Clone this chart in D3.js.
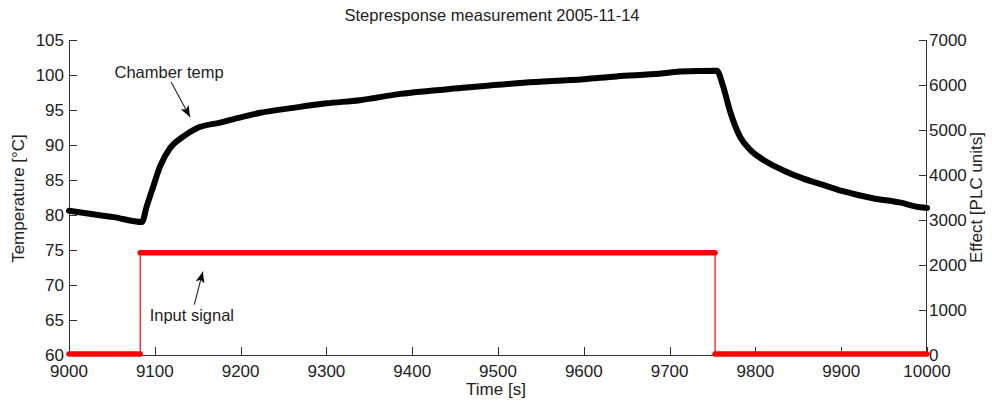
<!DOCTYPE html>
<html><head><meta charset="utf-8">
<script src="https://cdn.jsdelivr.net/npm/d3@7/dist/d3.min.js"></script>
<style>body{margin:0;background:#fff}svg{display:block}text{font-family:"Liberation Sans",Arial,sans-serif}</style>
</head><body><svg id="c" width="992" height="401"></svg>
<script>
const title = "Stepresponse measurement 2005-11-14";
const xLabel = "Time [s]";
const yLeftLabel = "Temperature [°C]";
const yRightLabel = "Effect [PLC units]";
const xTicks = [9000,9100,9200,9300,9400,9500,9600,9700,9800,9900,10000];
const yLeftTicks = [60,65,70,75,80,85,90,95,100,105];
const yRightTicks = [0,1000,2000,3000,4000,5000,6000,7000];

// Chamber temperature (time s, temp °C)
const tempTime = [9000,9028,9052,9085,9090.5,9098,9106,9118,9133,9149,9176,9195,9223,9261,9300,9339,9386,9463,9530,9600,9638,9690,9712,9755,9762.6,9770,9782,9794,9809,9832,9856,9879,9902,9937,9968,9992,10000];
const tempValue = [80.6,80.1,79.7,79.0,81.2,84.0,86.9,89.6,91.2,92.4,93.2,93.8,94.6,95.3,95.95,96.4,97.3,98.2,98.9,99.4,99.8,100.2,100.5,100.6,98.3,95.0,91.2,89.3,87.9,86.4,85.2,84.3,83.4,82.4,81.8,81.1,81.0];

// Input signal (time s, effect PLC units)
const sigTime = [9000,9083,9083,9753,9753,10000];
const sigValue = [0,0,2250,2250,0,0];

// Annotations (data units)
const notes = [
  {text:"Chamber temp", tx:9053, ty:99.6, x1:9119, y1:99, x2:9141, y2:94},
  {text:"Input signal", tx:9094, ty:64.8, x1:9146, y1:67.2, x2:9156, y2:71.9}
];

const svg = d3.select("#c");
const L=69,R=927,T=40,B=355;
const x = d3.scaleLinear().domain([9000,10000]).range([L,R]);
const yl = d3.scaleLinear().domain([60,105]).range([B,T]);
const yr = d3.scaleLinear().domain([0,7000]).range([B,T]);
const axisColor="#333", txtColor="#222";
const fs=17;

// axes lines
svg.append("line").attr("x1",L).attr("x2",R).attr("y1",B+0.5).attr("y2",B+0.5).attr("stroke",axisColor);
svg.append("line").attr("x1",L+0.5).attr("x2",L+0.5).attr("y1",T).attr("y2",B).attr("stroke",axisColor);
svg.append("line").attr("x1",R-0.5).attr("x2",R-0.5).attr("y1",T).attr("y2",B).attr("stroke",axisColor);

// ticks
const tl=8;
const gx=svg.append("g");
xTicks.forEach(v=>{
  gx.append("line").attr("x1",Math.round(x(v))+0.5).attr("x2",Math.round(x(v))+0.5).attr("y1",B).attr("y2",B-tl).attr("stroke",axisColor);
  gx.append("text").attr("x",x(v)).attr("y",B+22).attr("text-anchor","middle").attr("font-size",fs).attr("fill",txtColor).text(v);
});
yLeftTicks.forEach(v=>{
  gx.append("line").attr("x1",L).attr("x2",L+tl).attr("y1",Math.round(yl(v))+0.5).attr("y2",Math.round(yl(v))+0.5).attr("stroke",axisColor);
  gx.append("text").attr("x",L-5).attr("y",yl(v)).attr("dy","0.36em").attr("text-anchor","end").attr("font-size",fs).attr("fill",txtColor).text(v);
});
yRightTicks.forEach(v=>{
  gx.append("line").attr("x1",R-tl).attr("x2",R).attr("y1",Math.round(yr(v))+0.5).attr("y2",Math.round(yr(v))+0.5).attr("stroke",axisColor);
  gx.append("text").attr("x",R+2).attr("y",yr(v)).attr("dy","0.36em").attr("text-anchor","start").attr("font-size",fs).attr("fill",txtColor).text(v);
});

// labels
svg.append("text").attr("x",(L+R)/2-6).attr("y",21).attr("text-anchor","middle").attr("font-size",16.5).attr("fill",txtColor).text(title);
svg.append("text").attr("x",(L+R)/2-2).attr("y",395).attr("text-anchor","middle").attr("font-size",fs).attr("fill",txtColor).text(xLabel);
svg.append("text").attr("transform",`translate(24,${(T+B)/2+1}) rotate(-90)`).attr("text-anchor","middle").attr("font-size",fs).attr("fill",txtColor).text(yLeftLabel);
svg.append("text").attr("transform",`translate(982,${(T+B)/2}) rotate(-90)`).attr("text-anchor","middle").attr("font-size",fs).attr("fill",txtColor).text(yRightLabel);

// input signal
const sig = sigTime.map((t,i)=>[t,sigValue[i]]);
svg.append("path").datum(sig).attr("fill","none").attr("stroke","#ff0000").attr("stroke-width",1.2)
  .attr("d",d3.line().x(d=>x(d[0])).y(d=>yr(d[1])));
for(let i=0;i<sig.length-1;i++){
  if(sig[i][1]===sig[i+1][1]){
    svg.append("path").datum([sig[i],sig[i+1]]).attr("fill","none").attr("stroke","#ff0000").attr("stroke-width",5.5).attr("stroke-linecap","round")
      .attr("d",d3.line().x(d=>x(d[0])).y(d=>yr(d[1])-1));
  }
}

// temperature
const temp = tempTime.map((t,i)=>[t,tempValue[i]]);
svg.append("path").datum(temp).attr("fill","none").attr("stroke","#000").attr("stroke-width",6).attr("stroke-linejoin","round").attr("stroke-linecap","round")
  .attr("d",d3.line().curve(d3.curveMonotoneX).x(d=>x(d[0])).y(d=>yl(d[1])));

// annotations
notes.forEach(n=>{
  svg.append("text").attr("x",x(n.tx)).attr("y",yl(n.ty)).attr("font-size",16.5).attr("fill",txtColor).text(n.text);
  const X1=x(n.x1),Y1=yl(n.y1),X2=x(n.x2),Y2=yl(n.y2);
  svg.append("line").attr("x1",X1).attr("y1",Y1).attr("x2",X2).attr("y2",Y2).attr("stroke",axisColor).attr("stroke-width",1.2);
  const a=Math.atan2(Y2-Y1,X2-X1), len=12, w=0.38;
  const p1=[X2-len*Math.cos(a-w),Y2-len*Math.sin(a-w)], p2=[X2-len*Math.cos(a+w),Y2-len*Math.sin(a+w)];
  const pm=[X2-len*0.7*Math.cos(a),Y2-len*0.7*Math.sin(a)];
  svg.append("path").attr("d",`M${X2},${Y2}L${p1[0]},${p1[1]}L${pm[0]},${pm[1]}L${p2[0]},${p2[1]}Z`).attr("fill","#000");
});
</script></body></html>
